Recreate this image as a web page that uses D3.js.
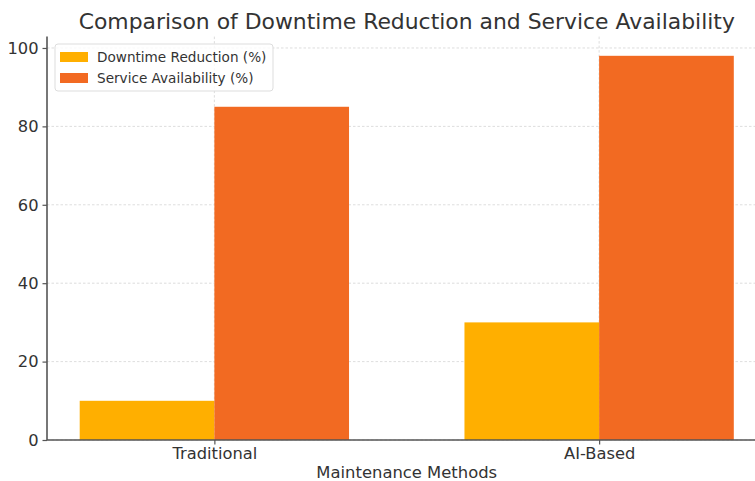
<!DOCTYPE html>
<html>
<head>
<meta charset="utf-8">
<script src="https://cdn.jsdelivr.net/npm/d3@7"></script>
<style>
  html, body { margin: 0; padding: 0; background: #fff; }
  svg { display: block; font-family: "DejaVu Sans", sans-serif; }
</style>
</head>
<body>
<svg id="chart" width="755" height="481"></svg>
<script>
// Maintenance methods compared
const categories = ["Traditional", "AI-Based"];
const seriesNames = ["Downtime Reduction (%)", "Service Availability (%)"];
const downtimeReduction = [10, 30];
const serviceAvailability = [85, 98];
const yTicks = [0, 20, 40, 60, 80, 100];
const seriesColors = ["#FFAF00", "#F26A22"];

const svg = d3.select("#chart");
const W = 755, H = 481;

// Plot area (right edge runs past the canvas)
const plotLeft = 47, plotRight = 766.5, plotTop = 36.6, plotBottom = 440;

const barWidth = 0.35;
const series = [downtimeReduction, serviceAvailability];

// Category index scale with matplotlib-like margins
const xMin = -barWidth - 0.05 * (1 + 2 * barWidth);
const xMax = 1 + barWidth + 0.05 * (1 + 2 * barWidth);
const x = d3.scaleLinear().domain([xMin, xMax]).range([plotLeft, plotRight]);
const yMax = d3.max(serviceAvailability) * 1.05;
const y = d3.scaleLinear().domain([0, yMax]).range([plotBottom, plotTop]);

// Grid lines
const grid = svg.append("g").attr("stroke", "#d4d4d4").attr("stroke-width", 0.8)
  .attr("stroke-dasharray", "2.5,2");
grid.selectAll("line.h").data(yTicks).join("line")
  .attr("x1", plotLeft).attr("x2", W)
  .attr("y1", d => y(d)).attr("y2", d => y(d));
grid.selectAll("line.v").data(categories).join("line")
  .attr("x1", (d, i) => x(i)).attr("x2", (d, i) => x(i))
  .attr("y1", plotTop).attr("y2", plotBottom);

// Bars
series.forEach((vals, s) => {
  svg.append("g").selectAll("rect").data(vals).join("rect")
    .attr("x", (d, i) => x(i + (s === 0 ? -barWidth : 0)))
    .attr("width", x(barWidth) - x(0))
    .attr("y", d => y(d))
    .attr("height", d => y(0) - y(d))
    .attr("fill", seriesColors[s]);
});

// Axes
const yAxis = d3.axisLeft(y).tickValues(yTicks).tickSize(4.5).tickPadding(4);
const gy = svg.append("g").attr("transform", `translate(${plotLeft},0)`).call(yAxis);
gy.select(".domain").attr("stroke", "#555").attr("stroke-width", 1.6).attr("d", `M0,${plotTop}V${plotBottom}`);
gy.selectAll(".tick line").attr("stroke", "#555").attr("stroke-width", 1.2);
gy.selectAll(".tick text").attr("font-size", 16.3).attr("fill", "#333")
  .attr("font-family", "DejaVu Sans, sans-serif");

const xCat = d3.scaleOrdinal().domain(categories).range(categories.map((c, i) => x(i)));
const xAxis = d3.axisBottom(xCat).tickSize(4.5).tickPadding(3);
const gx = svg.append("g").attr("transform", `translate(0,${plotBottom})`).call(xAxis);
gx.select(".domain").attr("stroke", "#555").attr("stroke-width", 1.6).attr("d", `M${plotLeft},0H${W}`);
gx.selectAll(".tick line").attr("stroke", "#555").attr("stroke-width", 1.2);
gx.selectAll(".tick text").attr("font-size", 16.3).attr("fill", "#333")
  .attr("font-family", "DejaVu Sans, sans-serif");

// Title and axis label
svg.append("text").attr("x", (plotLeft + plotRight) / 2).attr("y", 29)
  .attr("text-anchor", "middle").attr("font-size", 21.9).attr("fill", "#333")
  .text("Comparison of Downtime Reduction and Service Availability");
svg.append("text").attr("x", (plotLeft + plotRight) / 2).attr("y", 478)
  .attr("text-anchor", "middle").attr("font-size", 16.4).attr("fill", "#333")
  .text("Maintenance Methods");

// Legend
const lg = svg.append("g").attr("transform", "translate(55,44)");
lg.append("rect").attr("width", 218).attr("height", 47).attr("rx", 3)
  .attr("fill", "#fff").attr("fill-opacity", 0.8).attr("stroke", "#ddd");
seriesNames.forEach((name, i) => {
  lg.append("rect").attr("x", 5).attr("y", 8 + i * 21).attr("width", 28).attr("height", 10)
    .attr("fill", seriesColors[i]);
  lg.append("text").attr("x", 42).attr("y", 18 + i * 21)
    .attr("font-size", 13.6).attr("fill", "#333").text(name);
});
</script>
</body>
</html>
